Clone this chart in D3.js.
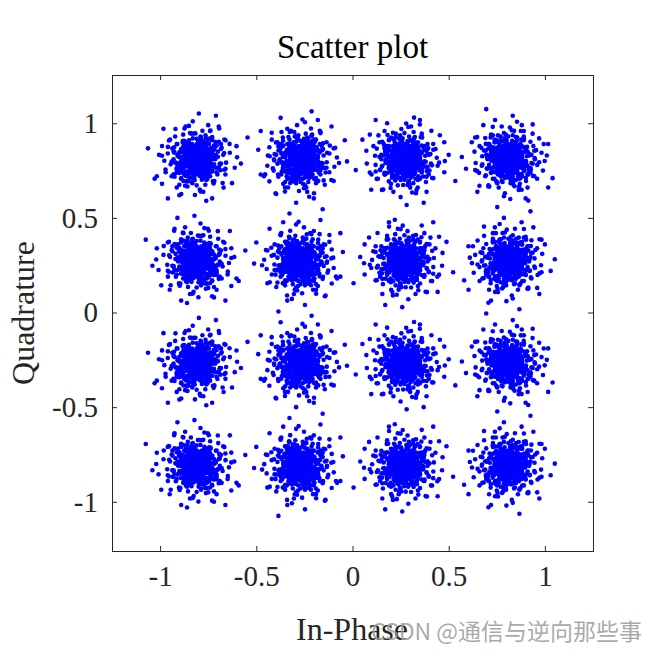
<!DOCTYPE html>
<html><head><meta charset="utf-8">
<script src="https://cdn.jsdelivr.net/npm/d3@7"></script>
<style>body{margin:0;background:#fff}svg{font-family:"Liberation Serif","Times New Roman",serif}</style>
</head><body><svg id="c" width="656" height="656"></svg>
<script>
// 16-QAM constellation centres
const levelsI = [-0.81, -0.27, 0.27, 0.81];
const levelsQ = [0.81, 0.27, -0.27, -0.81];
// noise offsets (hundredths), estimated from the spread of one cluster
const noiseOffsets = [
  [0,0],[2,1],[-1,3],[3,-2],[-3,-1],[1,-4],[4,3],[-4,2],[5,0],[0,5],
  [-5,-3],[2,-6],[6,2],[-2,6],[-6,-1],[3,4],[-3,-5],[7,-3],[-7,4],[1,8],
  [4,-8],[-8,-2],[8,5],[-1,-8],[6,-6],[-6,6],[9,1],[-9,-5],[2,10],[5,9],
  [-4,-10],[10,-4],[-10,3],[11,7],[-7,-9],[8,-10],[-11,-1],[12,2],[0,-12],[-3,12],
  [13,-7],[-12,9],[6,13],[-9,-13],[15,3],[-14,-6],[3,-15],[-5,15],[16,-11],[-17,2],
  [10,15],[18,6],[-15,14],[7,-18],[-19,-9],[20,-2],[1,21],[-13,-18],[23,10],[-22,5],
  [1,2],[-2,-1],[3,1],[-1,-3],[2,-3],[-4,0],[0,-2],[4,-1],[-3,3],[1,5],
  [5,-4],[-5,1],[-2,-5],[6,4],[-6,-4],[3,7],[7,0],[-7,-6],[0,7],[-4,8],
  [2,4],[-3,-2],[4,6],[-5,5],[6,-2],[-2,-7],[8,2],[-8,1],[3,-6],[-1,6],
  [9,-6],[-9,7],[7,9],[-6,-10],[11,-2],[-11,5],[4,11],[-2,-11],[10,8],[-10,-8]
];
const spreadScales = [1.15, 1.0, 0.9, 0.8, 0.65];
const titleText = "Scatter plot";
const xTicks = [-1, -0.5, 0, 0.5, 1];
const yTicks = [-1, -0.5, 0, 0.5, 1];

const svg = d3.select("#c");
const m = { left: 112, right: 593, top: 75, bottom: 551 };
const x = d3.scaleLinear().domain([-1.25, 1.25]).range([m.left, m.right]);
const y = d3.scaleLinear().domain([-1.26, 1.255]).range([m.bottom, m.top]);

const syms = [
  ([a, b]) => [a, b], ([a, b]) => [-b, a], ([a, b]) => [-a, -b], ([a, b]) => [b, -a],
  ([a, b]) => [-a, b], ([a, b]) => [b, a], ([a, b]) => [a, -b], ([a, b]) => [-b, -a]
];
const points = [];
let ci = 0;
levelsQ.forEach(q => levelsI.forEach(i => {
  spreadScales.forEach((k, s) => {
    const f = syms[(ci * 3 + s * 5) % 8];
    noiseOffsets.forEach(o => {
      const [dx, dy] = f(o);
      points.push([i + k * dx / 100, q + k * dy / 100]);
    });
  });
  ci++;
}));

svg.append("g").selectAll("circle").data(points).join("circle")
  .attr("cx", d => x(d[0])).attr("cy", d => y(d[1])).attr("r", 2.3)
  .attr("fill", "#0000ff");

const ax = [
  [d3.axisBottom(x).tickValues(xTicks).tickSize(-5).tickPadding(14).tickFormat(d => d), `translate(0,${m.bottom})`],
  [d3.axisTop(x).tickValues(xTicks).tickSize(-5).tickFormat(""), `translate(0,${m.top})`],
  [d3.axisLeft(y).tickValues(yTicks).tickSize(-5).tickPadding(14).tickFormat(d => d), `translate(${m.left},0)`],
  [d3.axisRight(y).tickValues(yTicks).tickSize(-5).tickFormat(""), `translate(${m.right},0)`]
];
ax.forEach(([a, t]) => {
  const g = svg.append("g").attr("transform", t).call(a);
  g.select(".domain").attr("stroke", "#262626");
  g.selectAll(".tick line").attr("stroke", "#262626");
  g.selectAll("text").attr("font-size", 29).attr("fill", "#262626")
    .attr("font-family", "Liberation Serif");
});

svg.append("text").attr("x", (m.left + m.right) / 2).attr("y", 58)
  .attr("text-anchor", "middle").attr("font-size", 33).text(titleText);
svg.append("text").attr("x", 352).attr("y", 640)
  .attr("text-anchor", "middle").attr("font-size", 32).attr("fill", "#262626").text("In-Phase");
svg.append("text").attr("transform", `translate(34,${(m.top + m.bottom) / 2}) rotate(-90)`)
  .attr("text-anchor", "middle").attr("font-size", 32).attr("fill", "#262626").text("Quadrature");
svg.append("text").attr("x", 642).attr("y", 640).attr("text-anchor", "end")
  .attr("font-size", 23).attr("fill", "#9a9a9a").attr("fill-opacity", 0.85)
  .attr("font-family", "Noto Sans CJK SC").text("CSDN @通信与逆向那些事");
</script></body></html>
